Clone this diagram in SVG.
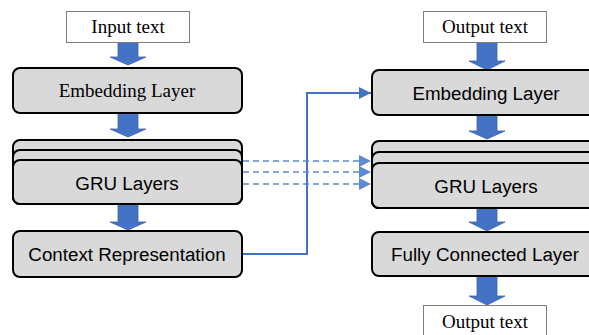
<svg xmlns="http://www.w3.org/2000/svg" width="589" height="335" viewBox="0 0 589 335">
<defs>
<style>
.tb{fill:#fff;stroke:#7f7f7f;stroke-width:1}
.lb{fill:#d9d9d9;stroke:#000;stroke-width:2}
.ser{font-family:"Liberation Serif","Times New Roman",serif;font-size:19px;fill:#000;text-anchor:middle}
.san{font-family:"Liberation Sans",Arial,sans-serif;font-size:18.8px;fill:#000;text-anchor:middle}
.ba{fill:#4472c4;stroke:#3a62a8;stroke-width:0.8}
.con{fill:none;stroke:#4472c4;stroke-width:2}
.dash{fill:none;stroke:#5b8bd0;stroke-width:1.6;stroke-dasharray:6 4}
</style>
<marker id="ah" markerWidth="12" markerHeight="12" viewBox="0 0 12 12" refX="12" refY="6" orient="auto" markerUnits="userSpaceOnUse">
<path d="M0,0 L12,6 L0,12 z" fill="#4472c4"/>
</marker>
<marker id="ahd" markerWidth="12" markerHeight="12" viewBox="0 0 12 12" refX="12" refY="6" orient="auto" markerUnits="userSpaceOnUse">
<path d="M0,0 L12,6 L0,12 z" fill="#5b8bd0"/>
</marker>
</defs>

<g id="connectors">
<polygon class="ba" points="118,42 138,42 138,57 146,57 128,65 110,57 118,57"/>
<polygon class="ba" points="118,113 138,113 138,129 146,129 128,137 110,129 118,129"/>
<polygon class="ba" points="118,204 138,204 138,222 146,222 128,230 110,222 118,222"/>
<polygon class="ba" points="477,42 497,42 497,61 505,61 487,70 469,61 477,61"/>
<polygon class="ba" points="477,115 497,115 497,131 505,131 487,139 469,131 477,131"/>
<polygon class="ba" points="477,208 497,208 497,222 505,222 487,231 469,222 477,222"/>
<polygon class="ba" points="477,276 497,276 497,296 505,296 487,305 469,296 477,296"/>
<polyline class="con" points="242,254 307,254 307,93 371,93" marker-end="url(#ah)"/>
<line class="dash" x1="243" y1="161" x2="371" y2="161" marker-end="url(#ahd)"/>
<line class="dash" x1="243" y1="172" x2="371" y2="172" marker-end="url(#ahd)"/>
<line class="dash" x1="243" y1="184" x2="371" y2="184" marker-end="url(#ahd)"/>
</g>

<g id="input-text">
<rect class="tb" x="66.5" y="11.5" width="123" height="31"/>
<text class="ser" x="128" y="33">Input text</text>
</g>
<g id="enc-embedding">
<rect class="lb" x="13" y="68" width="229" height="45" rx="7"/>
<text class="ser" x="127" y="97">Embedding Layer</text>
</g>
<g id="enc-gru">
<rect class="lb" x="13" y="140" width="229" height="64" rx="7"/>
<rect class="lb" x="13" y="150" width="229" height="54" rx="7"/>
<rect class="lb" x="13" y="160" width="229" height="44" rx="7"/>
<text class="san" x="127" y="190">GRU Layers</text>
</g>
<g id="context">
<rect class="lb" x="13" y="231" width="229" height="46" rx="7"/>
<text class="san" x="127" y="261">Context Representation</text>
</g>

<g id="output-text-top">
<rect class="tb" x="423.5" y="11.5" width="123" height="31"/>
<text class="ser" x="485" y="33">Output text</text>
</g>
<g id="dec-embedding">
<rect class="lb" x="372" y="70" width="230" height="45" rx="7"/>
<text class="san" x="486" y="100">Embedding Layer</text>
</g>
<g id="dec-gru">
<rect class="lb" x="372" y="141" width="230" height="67" rx="7"/>
<rect class="lb" x="372" y="152" width="230" height="56" rx="7"/>
<rect class="lb" x="372" y="163" width="230" height="45" rx="7"/>
<text class="san" x="486" y="193">GRU Layers</text>
</g>
<g id="fc">
<rect class="lb" x="372" y="232" width="230" height="44" rx="7"/>
<text class="san" x="485" y="261">Fully Connected Layer</text>
</g>
<g id="output-text-bottom">
<rect class="tb" x="423.5" y="305.5" width="123" height="34"/>
<text class="ser" x="485" y="328">Output text</text>
</g>
</svg>
